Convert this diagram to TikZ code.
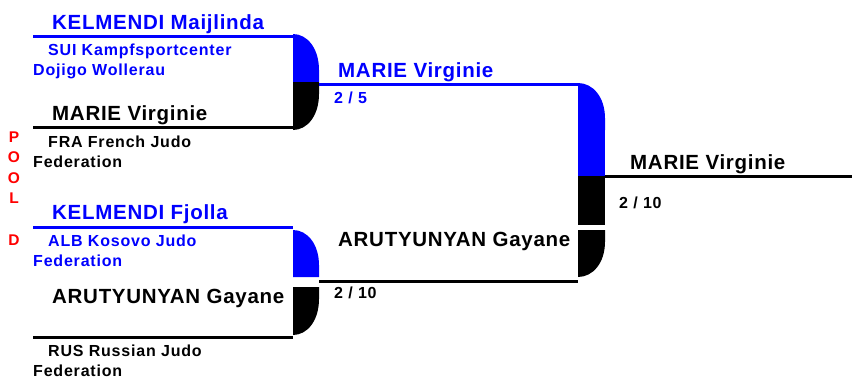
\documentclass[tikz,border=0pt]{standalone}
\usepackage{fontspec}
\setmainfont{Liberation Sans}
\newfontfamily\namefont[LetterSpace=3.5]{Liberation Sans}
\newfontfamily\clubfont[LetterSpace=5]{Liberation Sans}

\definecolor{winblue}{RGB}{0,0,255}
\definecolor{poolred}{RGB}{255,0,0}

% rounded half of a bracket joint: colour, x0, y0, x1, y1
\newcommand\jointtop[5]{\fill[#1] (#2,#5) -- (#2,#3) .. controls ({#2+0.55*(#4-#2)},#3) and (#4,{#3+0.3*(#5-#3)}) .. (#4,{#3+0.75*(#5-#3)}) -- (#4,#5) -- cycle;}
\newcommand\jointbot[5]{\fill[#1] (#2,#3) -- (#4,#3) -- (#4,{#3+0.25*(#5-#3)}) .. controls (#4,{#3+0.7*(#5-#3)}) and ({#2+0.55*(#4-#2)},#5) .. (#2,#5) -- cycle;}

\tikzset{
  bigname/.style={anchor=base west, inner sep=0pt, font=\namefont\bfseries\fontsize{20.5}{20.5}\selectfont},
  club/.style={anchor=base west, inner sep=0pt, align=left, font=\clubfont\bfseries\fontsize{16}{20}\selectfont},
  score/.style={anchor=base west, inner sep=0pt, font=\clubfont\bfseries\fontsize{16}{20}\selectfont},
  pool/.style={anchor=base, inner sep=0pt, align=center, text=poolred, font=\bfseries\fontsize{15.5}{20.6}\selectfont},
  winline/.style={winblue, line width=3pt},
  loseline/.style={black, line width=3pt},
}

\begin{document}
\begin{tikzpicture}[x=1pt,y=-1pt]
\useasboundingbox (0,0) rectangle (852,378);

% base of a multi-line node is its last line
\node[pool] (pool) at (14,245) {P\\O\\O\\L\\\mbox{}\\D};

%first match
\coordinate (m1a) at (33,36);   \coordinate (m1b) at (293,36);
\coordinate (m1c) at (33,127);  \coordinate (m1d) at (293,127);
\draw[winline] (m1a) -- (m1b);
\draw[loseline] (m1c) -- (m1d);
\jointtop{winblue}{293}{34}{319}{82}
\jointbot{black}{293}{82}{319}{130}

\node[bigname, text=winblue] (kelmaij) at (52,29.5) {KELMENDI Maijlinda};
\node[club, text=winblue] (kelmaijclub) at (33,75) {\hspace*{15pt}SUI Kampfsportcenter\\Dojigo Wollerau};
\node[bigname] (marie1) at (52,120.5) {MARIE Virginie};
\node[club] (marieclub) at (33,167.5) {\hspace*{15pt}FRA French Judo\\Federation};

%second match
\coordinate (m2a) at (33,227);  \coordinate (m2b) at (293,227);
\coordinate (m2c) at (33,337);  \coordinate (m2d) at (293,337);
\draw[winline] (m2a) -- (m2b);
\draw[loseline] (m2c) -- (m2d);
\jointtop{winblue}{293}{230}{319}{277}
\jointbot{black}{293}{287}{319}{335}

\node[bigname, text=winblue] (kelfj) at (52,219.5) {KELMENDI Fjolla};
\node[club, text=winblue] (kelfjclub) at (33,266) {\hspace*{15pt}ALB Kosovo Judo\\Federation};
\node[bigname] (aru1) at (52,303) {ARUTYUNYAN Gayane};
\node[club] (aruclub) at (33,376) {\hspace*{15pt}RUS Russian Judo\\Federation};

%final
\coordinate (f1a) at (319,84);  \coordinate (f1b) at (578,84);
\coordinate (f2a) at (319,281); \coordinate (f2b) at (578,281);
\coordinate (w1) at (605,176);  \coordinate (w2) at (852,176);
\draw[winline] (f1a) -- (f1b);
\draw[loseline] (f2a) -- (f2b);
\draw[loseline] (w1) -- (w2);
\jointtop{winblue}{578}{83}{605}{130}
\fill[winblue] (578,130) rectangle (605,176);
\fill[black] (578,176) rectangle (605,225);
\jointbot{black}{578}{230}{605}{277}

\node[bigname, text=winblue] (marie2) at (338,77) {MARIE Virginie};
\node[score, text=winblue] (score1) at (334,103) {2 / 5};
\node[bigname] (aru2) at (338,246) {ARUTYUNYAN Gayane};
\node[score] (score2) at (334,298) {2 / 10};

\node[bigname] (winner) at (630,169) {MARIE Virginie};
\node[score] (score3) at (619,208) {2 / 10};

\end{tikzpicture}
\end{document}
